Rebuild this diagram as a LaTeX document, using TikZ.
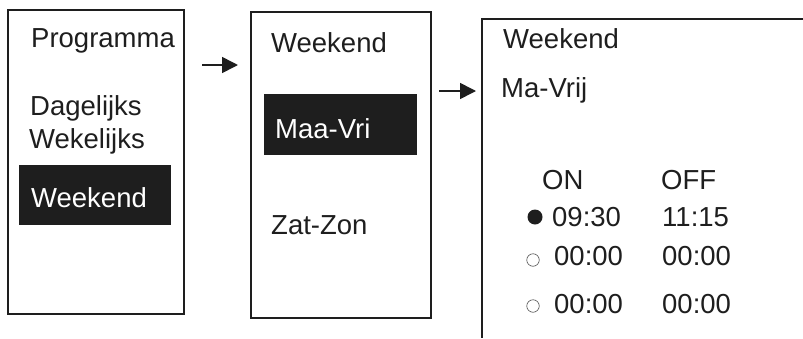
\documentclass[tikz,border=0pt]{standalone}
\usepackage{fontspec}
\setmainfont{Liberation Sans}
\usetikzlibrary{arrows.meta}
\definecolor{ink}{HTML}{1E1E1E}
\tikzset{
  frame/.style={draw=ink, line width=1.3pt, fill=none},
  lbl/.style={anchor=base west, inner sep=0pt, text=ink, font=\fontsize{27.5}{31}\selectfont},
  wlbl/.style={lbl, text=white},
  hl/.style={fill=ink, draw=none},
  flow/.style={draw=ink, line width=1.6pt, -{Triangle[length=16pt,width=16pt]}},
  dot/.style={circle, inner sep=0pt, minimum size=#1},
}
\begin{document}
\begin{tikzpicture}[x=1pt,y=-1pt]
\useasboundingbox (0,0) rectangle (803,338);
% screens
\draw[frame] (8,10) rectangle (184,314);
\node[hl, anchor=north west, minimum width=152pt, minimum height=60pt, inner sep=0pt] (sel1) at (19,165) {};
\draw[frame] (251,12) rectangle (431,318);
\node[hl, anchor=north west, minimum width=153pt, minimum height=61pt, inner sep=0pt] (sel2) at (264,94) {};
\draw[frame] (803,19) -- (482,19) -- (482,338);
% screen 1 texts
\node[lbl] (prog) at (31,47) {Programma};
\node[lbl] (dag) at (30,115) {Dagelijks};
\node[lbl] (wek) at (29,148) {Wekelijks};
\node[wlbl] (wkd1) at (31,207) {Weekend};
% screen 2 texts
\node[lbl] (wkd2) at (271,52) {Weekend};
\node[wlbl] (mv) at (275,138) {Maa-Vri};
\node[lbl] (zz) at (271,234) {Zat-Zon};
% screen 3 texts
\node[lbl] (wkd3) at (503,48) {Weekend};
\node[lbl] (mvr) at (501,97) {Ma-Vrij};
\node[lbl] (on) at (542,189) {ON};
\node[lbl] (off) at (661,189) {OFF};
\node[lbl] (t1a) at (552,226) {09:30};
\node[lbl] (t1b) at (662,226) {11:15};
\node[lbl] (t2a) at (554,265) {00:00};
\node[lbl] (t2b) at (662,265) {00:00};
\node[lbl] (t3a) at (554,313) {00:00};
\node[lbl] (t3b) at (662,313) {00:00};
\node[dot=15pt, fill=ink] (d1) at (535,217) {};
\node[dot=12.5pt, draw=ink!80, line width=0.6pt] (d2) at (533,260) {};
\node[dot=12.5pt, draw=ink!80, line width=0.6pt] (d3) at (533,306) {};
% arrows
\coordinate (a1s) at (202,65);
\coordinate (a1e) at (238,65);
\coordinate (a2s) at (439,91);
\coordinate (a2e) at (476,91);
\draw[flow] (a1s) -- (a1e);
\draw[flow] (a2s) -- (a2e);
\end{tikzpicture}
\end{document}
